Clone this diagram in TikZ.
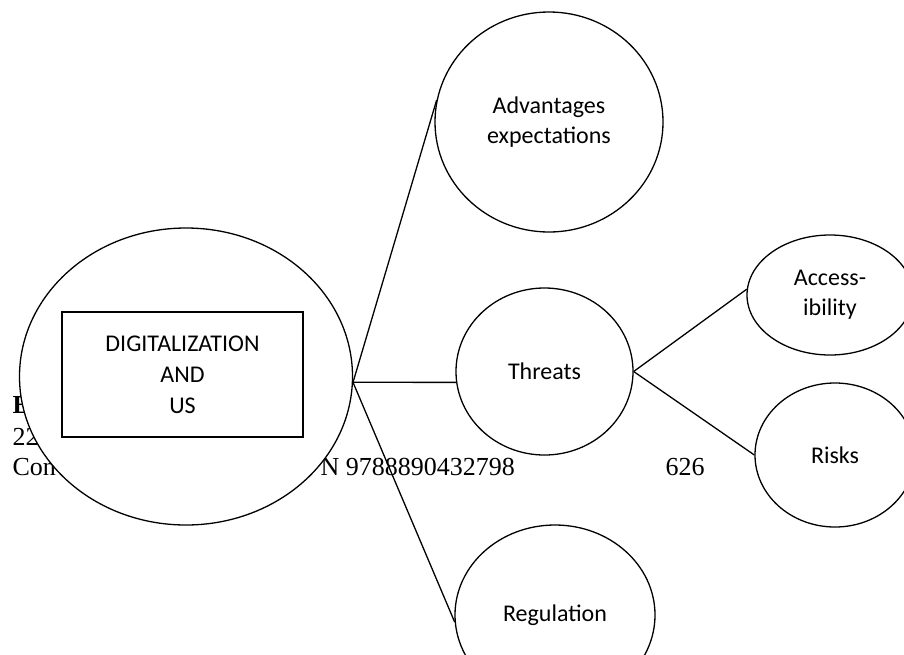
\documentclass[tikz,border=0pt]{standalone}
\usepackage{fontspec}
\setmainfont{Liberation Serif}
\newfontfamily\calib{Carlito}
\usetikzlibrary{shapes.geometric}

\begin{document}
\begin{tikzpicture}[x=1pt,y=-1pt,line width=1.3pt,
  bubble/.style={ellipse,draw,fill=white,inner sep=0pt,align=center,
    font=\calib\fontsize{24}{30}\selectfont},
  page/.style={anchor=base west,inner sep=0pt,font=\fontsize{26}{31}\selectfont}]

\useasboundingbox (0,0) rectangle (904,654);
\clip (0,0) rectangle (904,654);

% text of the page behind the diagram
\node[page,font=\bfseries\fontsize{26}{31}\selectfont] (pE) at (12,413) {E};
\node[page]   (p22)  at (12,445)  {22};
\node[page]   (pCon) at (12,475)  {Con};
\node[page]   (pN)   at (320,475) {N 9788890432798};
\node[page]   (p626) at (665,475) {626};

\node[bubble,minimum width=333pt,minimum height=297pt] (dig)  at (186,376.5) {};
\node[draw,fill=white,minimum width=241pt,minimum height=125pt,align=center,
  font=\calib\fontsize{24}{31}\selectfont] (us) at (182.5,374.5) {DIGITALIZATION\\AND\\US};

\node[bubble,minimum width=228pt,minimum height=220pt] (adv)  at (549,122) {Advantages\\expectations};
\node[bubble,minimum width=177pt,minimum height=167pt] (thr)  at (544.5,371.5) {Threats};
\node[bubble,minimum width=166pt,minimum height=120pt] (acc)  at (830,295) {Access-\\ibility};
\node[bubble,minimum width=160pt,minimum height=144pt] (risk) at (835,455) {Risks};
\node[bubble,minimum width=200pt,minimum height=180pt] (reg)  at (555,615) {Regulation};

	\path (dig.-2)    edge  (adv.169)
	                  edge  (thr.187)
	                  edge  (reg.184)
	      (thr.east)  edge  (acc.176)
	                  edge  (risk.west);

\end{tikzpicture}
\end{document}
